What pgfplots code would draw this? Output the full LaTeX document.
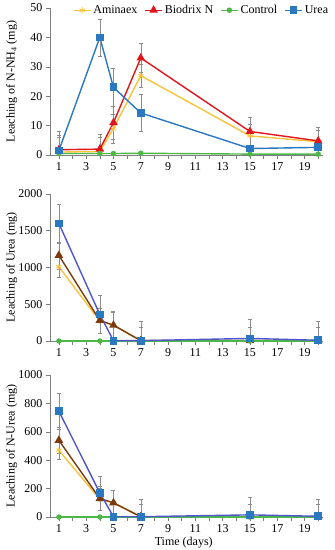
\documentclass[border=0pt]{standalone}
\usepackage{pgfplots}
\pgfplotsset{compat=1.18}
\usepackage{fontspec}
\setmainfont{Liberation Serif}
\definecolor{amin}{HTML}{F7C33C}
\definecolor{biod}{HTML}{E0151B}
\definecolor{ctrl}{HTML}{4DB848}
\definecolor{urea}{HTML}{2A78C2}
\definecolor{ureaL}{HTML}{5055CF}
\definecolor{biodL}{HTML}{7A3A0E}
\definecolor{ebar}{HTML}{8C8C8C}
\definecolor{axc}{HTML}{7F7F7F}
\pgfplotsset{
  panel/.style={
    scale only axis, width=273pt,
    xmin=0.35, xmax=20.35, ymin=0,
    axis x line*=bottom, axis y line*=left,
    axis line style={axc, line width=0.6pt},
    xtick={1,3,...,19}, minor xtick={2,4,...,20},
    tick align=outside, tick style={axc, line width=0.6pt},
    major tick length=4pt, minor tick length=4pt,
    font=\fontsize{12}{14}\selectfont,
    /pgf/number format/assume math mode=true,
    /pgf/number format/set thousands separator={},
    clip=false,
    every axis plot/.append style={line width=1.4pt},
    error bars/y dir=both, error bars/y explicit,
    error bars/error bar style={ebar, line width=0.5pt, solid},
    error bars/error mark options={rotate=90, ebar, mark size=2pt, line width=0.5pt},
    ylabel style={font=\fontsize{12}{14}\selectfont, at={(axis description cs:-0.14,0.5)}, anchor=center},
  },
  sA/.style={color=amin, mark=asterisk, mark size=3pt, mark options={solid, line width=0.8pt}},
  sB/.style={color=biod, mark=triangle*, mark size=3.6pt, mark options={solid}},
  sC/.style={color=ctrl, mark=*, mark size=2pt, mark options={solid}},
  sU/.style={color=urea, mark=square*, mark size=3.2pt, mark options={solid}},
}
\begin{document}
\begin{tikzpicture}
\path[use as bounding box] (0,0) rectangle (335pt,550pt);
% ---------- top panel ----------
\begin{axis}[panel, at={(50pt,395pt)}, anchor=south west, height=147pt,
  ymax=50, ytick={0,10,...,50},
  ylabel={Leaching of  N-NH\textsubscript{4} (mg)},
  legend style={at={(0.555,0.985)}, anchor=center, draw=none, fill=none,
    legend columns=4, font=\fontsize{12}{14}\selectfont,
    /tikz/every even column/.append style={column sep=5pt}},
  legend cell align=left]
\addplot+[sA] coordinates {(1,1.0) += (0,5) -= (0,1.0) (4,1.2) += (0,5) -= (0,1.2) (5,9) += (0,5) -= (0,5) (7,27) += (0,4) -= (0,4) (15,6.5) += (0,4) -= (0,4) (20,4.5) += (0,4) -= (0,4)};
\addlegendentry{Aminaex}
\addplot+[sB] coordinates {(1,1.8) += (0,5) -= (0,1.8) (4,2.0) += (0,5) -= (0,2.0) (5,11) += (0,5.5) -= (0,5.5) (7,33) += (0,5) -= (0,5) (15,8) += (0,5) -= (0,5) (20,4.8) += (0,4.8) -= (0,4.8)};
\addlegendentry{Biodrix N}
\addplot+[sC] coordinates {(1,0.5) += (0,0.3) -= (0,0.3) (4,0.5) += (0,0.3) -= (0,0.3) (5,0.5) += (0,0.3) -= (0,0.3) (7,0.6) += (0,0.3) -= (0,0.3) (15,0.3) += (0,0.3) -= (0,0.3) (20,0.3) += (0,0.3) -= (0,0.3)};
\addlegendentry{Control}
\addplot+[sU] coordinates {(1,1.5) += (0,6.5) -= (0,1.5) (4,40) += (0,6.3) -= (0,6.3) (5,23) += (0,6.4) -= (0,6.4) (7,14.3) += (0,6.2) -= (0,6.2) (15,2.2) += (0,1) -= (0,1) (20,2.6) += (0,1) -= (0,1)};
\addlegendentry{Urea}
\end{axis}
% ---------- middle panel ----------
\begin{axis}[panel, at={(50pt,209pt)}, anchor=south west, height=147pt,
  ymax=2000, ytick={0,500,...,2000},
  ylabel={Leaching of Urea (mg)}]
\addplot+[sA] coordinates {(1,1010) += (0,140) -= (0,140) (4,270) += (0,170) -= (0,170) (5,215) += (0,180) -= (0,180) (7,5) += (0,180) -= (0,5) (15,5) += (0,180) -= (0,5) (20,5) += (0,180) -= (0,5)};
\addplot+[sB, color=biodL, mark options={fill=biodL}] coordinates {(1,1165) += (0,185) -= (0,185) (4,280) += (0,170) -= (0,170) (5,215) += (0,185) -= (0,185) (7,5) += (0,180) -= (0,5) (15,5) += (0,180) -= (0,5) (20,5) += (0,180) -= (0,5)};
\addplot+[sC] coordinates {(1,0) (4,0) (5,0) (7,0) (15,0) (20,0)};
\addplot+[sU, color=ureaL, mark options={fill=urea, draw=urea}] coordinates {(1,1600) += (0,265) -= (0,265) (4,360) += (0,260) -= (0,260) (5,5) += (0,0) -= (0,0) (7,5) += (0,260) -= (0,5) (15,35) += (0,260) -= (0,35) (20,10) += (0,260) -= (0,10)};
\end{axis}
% ---------- bottom panel ----------
\begin{axis}[panel, at={(50pt,33pt)}, anchor=south west, height=142pt,
  ymax=1000, ytick={0,200,...,1000},
  ylabel={Leaching of N-Urea (mg)},
  xlabel={Time (days)},
  xlabel style={at={(axis description cs:0.49,-0.18)}, anchor=center, font=\fontsize{12}{14}\selectfont}]
\addplot+[sA] coordinates {(1,470) += (0,65) -= (0,65) (4,125) += (0,80) -= (0,80) (5,100) += (0,85) -= (0,85) (7,2) += (0,85) -= (0,2) (15,2) += (0,85) -= (0,2) (20,2) += (0,85) -= (0,2)};
\addplot+[sB, color=biodL, mark options={fill=biodL}] coordinates {(1,540) += (0,90) -= (0,90) (4,130) += (0,85) -= (0,85) (5,100) += (0,85) -= (0,85) (7,2) += (0,85) -= (0,2) (15,2) += (0,85) -= (0,2) (20,2) += (0,85) -= (0,2)};
\addplot+[sC] coordinates {(1,0) (4,0) (5,0) (7,0) (15,0) (20,0)};
\addplot+[sU, color=ureaL, mark options={fill=urea, draw=urea}] coordinates {(1,745) += (0,125) -= (0,125) (4,170) += (0,120) -= (0,120) (5,2) += (0,0) -= (0,0) (7,2) += (0,120) -= (0,2) (15,15) += (0,125) -= (0,15) (20,5) += (0,120) -= (0,5)};
\end{axis}
\end{tikzpicture}
\end{document}
